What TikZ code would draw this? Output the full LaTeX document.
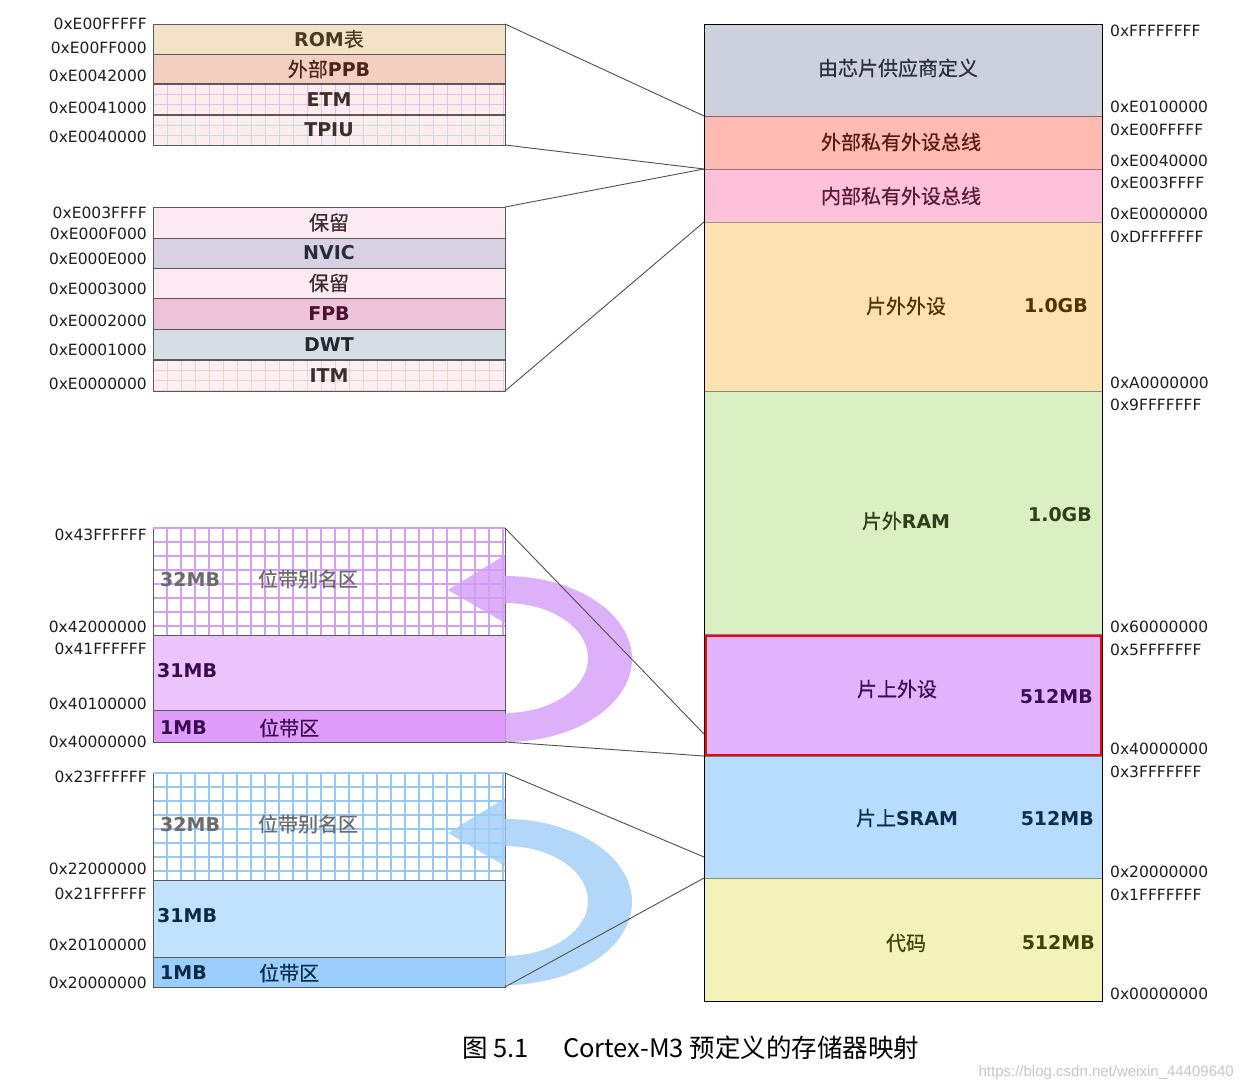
\documentclass[tikz,border=0pt]{standalone}
\usepackage{fontspec}
\setmainfont{DejaVu Sans}
\newfontfamily\cjk{Noto Sans CJK SC}
\newfontfamily\cjkb{Noto Sans CJK SC}[FakeBold=0.5]
\newfontfamily\wmfont{Liberation Sans}
\usetikzlibrary{calc}
\newcommand\zh[1]{{\cjkb\fontsize{20}{20}\selectfont #1}}
\newcommand\lb[1]{{\fontsize{19}{19}\selectfont\bfseries #1}}
% grid inside a named cell: node, colour, x step, y step, top line colour, line width, offset
\newcommand\gridin[7]{%
  \begin{scope}
    \clip (#1.north west) rectangle (#1.south east);
    \foreach \i in {1,...,30}{
      \draw[draw=#2, line width=#6pt] ($(#1.north west)+(\i*#3+#7,0)$) -- ($(#1.south west)+(\i*#3+#7,0)$);
    }
    \foreach \j in {1,...,12}{
      \draw[draw=#2, line width=#6pt] ($(#1.north west)+(0,\j*#4+#7)$) -- ($(#1.north east)+(0,\j*#4+#7)$);
    }
  \end{scope}
  \draw[draw=bordc, line width=0.8pt] (#1.north west) rectangle (#1.south east);
  \draw[draw=#5, line width=1.5pt] (#1.north west) -- (#1.north east);
}
% colours
\definecolor{hexc}{HTML}{1E1E1E}
\definecolor{bordc}{HTML}{5A5A5A}
\definecolor{connc}{HTML}{505050}
\definecolor{romc}{HTML}{F2E3C8}
\definecolor{romt}{HTML}{4A3A1E}
\definecolor{ppbc}{HTML}{F2CFC1}
\definecolor{ppbt}{HTML}{4A2418}
\definecolor{etmc}{HTML}{FDEDED}
\definecolor{etmg}{HTML}{E6BFEA}
\definecolor{tpiug}{HTML}{C9D9E8}
\definecolor{darkt}{HTML}{3A2F2F}
\definecolor{rsvc}{HTML}{FDE9F2}
\definecolor{nvicc}{HTML}{D8D1E2}
\definecolor{nvict}{HTML}{2A2A3F}
\definecolor{fpbc}{HTML}{EDC4D7}
\definecolor{fpbt}{HTML}{4A1030}
\definecolor{dwtc}{HTML}{D6DEE5}
\definecolor{dwtt}{HTML}{1F2A30}
\definecolor{itmc}{HTML}{FDEFF3}
\definecolor{itmg}{HTML}{E6D6C0}
\definecolor{vendc}{HTML}{CDD1DE}
\definecolor{vendt}{HTML}{2B2F3B}
\definecolor{extc}{HTML}{FFBBB1}
\definecolor{extt}{HTML}{5B1A14}
\definecolor{intc}{HTML}{FEC1DA}
\definecolor{intt}{HTML}{5A1A35}
\definecolor{offpc}{HTML}{FDE1B1}
\definecolor{offpt}{HTML}{4F3300}
\definecolor{offrc}{HTML}{DAF0C3}
\definecolor{offrt}{HTML}{2F3F1A}
\definecolor{onpc}{HTML}{E1B4FD}
\definecolor{onpt}{HTML}{3B0F58}
\definecolor{sramc}{HTML}{B6DCFE}
\definecolor{sramt}{HTML}{0E2C4C}
\definecolor{codec}{HTML}{F3F3B9}
\definecolor{codet}{HTML}{40400F}
\definecolor{pgrid}{HTML}{D7A0F7}
\definecolor{p31c}{HTML}{EBC4FC}
\definecolor{p1c}{HTML}{E09CFB}
\definecolor{pt}{HTML}{3A0A50}
\definecolor{parr}{HTML}{D49EF9}
\definecolor{bgrid}{HTML}{97C8F6}
\definecolor{b31c}{HTML}{C1E2FD}
\definecolor{b1c}{HTML}{9BCEFC}
\definecolor{bt}{HTML}{0A2A4A}
\definecolor{barr}{HTML}{9FCDF7}
\definecolor{aliast}{HTML}{6B6B6B}
\tikzset{
  cell/.style={rectangle, anchor=north west, inner sep=0pt, outer sep=0pt, line width=0.8pt, draw=#1},
  hexl/.style={font=\fontsize{15.5}{15.5}\selectfont, text=hexc, inner sep=0pt},
  txt/.style={inner sep=0pt},
  conn/.style={draw=connc, line width=0.9pt},
}
\begin{document}
\begin{tikzpicture}[x=1pt,y=-1pt]
\useasboundingbox (0,0) rectangle (1243,1091);
\fill[white] (0,0) rectangle (1243,1091);

% ---------- top-left block ----------
\node[cell=bordc, fill=romc, minimum width=352pt, minimum height=30pt, text=romt] (rom) at (153,24) {\lb{ROM}\zh{表}};
\node[cell=bordc, fill=ppbc, minimum width=352pt, minimum height=30pt, text=ppbt] (ppb) at (153,54) {\zh{外部}\lb{PPB}};
\node[cell=bordc, fill=etmc, minimum width=352pt, minimum height=31pt] (etm) at (153,84) {};
\gridin{etm}{etmg}{14}{10}{bordc}{1}{0.5}
\node[txt, text=darkt] (etmt) at (etm.center) {\lb{ETM}};
\node[cell=bordc, fill=etmc, minimum width=352pt, minimum height=30pt] (tpiu) at (153,115) {};
\gridin{tpiu}{tpiug}{14}{10}{bordc}{1}{0.5}
\node[txt, text=darkt] (tpiut) at (tpiu.center) {\lb{TPIU}};

% ---------- middle-left block ----------
\node[cell=bordc, fill=rsvc, minimum width=352pt, minimum height=31pt, text=darkt] (rsv1) at (153,207) {\zh{保留}};
\node[cell=bordc, fill=nvicc, minimum width=352pt, minimum height=30pt, text=nvict] (nvic) at (153,238) {\lb{NVIC}};
\node[cell=bordc, fill=rsvc, minimum width=352pt, minimum height=30pt, text=darkt] (rsv2) at (153,268) {\zh{保留}};
\node[cell=bordc, fill=fpbc, minimum width=352pt, minimum height=31pt, text=fpbt] (fpb) at (153,298) {\lb{FPB}};
\node[cell=bordc, fill=dwtc, minimum width=352pt, minimum height=31pt, text=dwtt] (dwt) at (153,329) {\lb{DWT}};
\node[cell=bordc, fill=itmc, minimum width=352pt, minimum height=31pt] (itm) at (153,360) {};
\gridin{itm}{itmg}{14}{10}{bordc}{1}{0.5}
\node[txt, text=darkt] (itmt) at (itm.center) {\lb{ITM}};

% ---------- purple bit-band block ----------
\node[cell=bordc, fill=white, minimum width=352pt, minimum height=107pt] (alias1) at (153,528) {};
\gridin{alias1}{pgrid}{14}{14}{pgrid}{2}{0}
\node[cell=bordc, fill=p31c, minimum width=352pt, minimum height=75pt] (p31) at (153,635) {};
\node[cell=bordc, fill=p1c, minimum width=352pt, minimum height=32pt] (bb1) at (153,710) {};

% ---------- blue bit-band block ----------
\node[cell=bordc, fill=white, minimum width=352pt, minimum height=107pt] (alias2) at (153,773) {};
\gridin{alias2}{bgrid}{14}{14}{bgrid}{2}{0}
\node[cell=bordc, fill=b31c, minimum width=352pt, minimum height=77pt] (b31) at (153,880) {};
\node[cell=bordc, fill=b1c, minimum width=352pt, minimum height=30pt] (bb2) at (153,957) {};

% ---------- curved arrows ----------
\fill[parr, fill opacity=0.8] (505,742) arc[start angle=-90, end angle=90, x radius=127pt, y radius=83pt]
  -- (505,555) -- (448,590) -- (505,623) -- (505,603)
  arc[start angle=90, end angle=-90, x radius=83pt, y radius=55pt] -- cycle;
\fill[barr, fill opacity=0.8] (505,985) arc[start angle=-90, end angle=90, x radius=127pt, y radius=83pt]
  -- (505,798) -- (448,833) -- (505,866) -- (505,846)
  arc[start angle=90, end angle=-90, x radius=83pt, y radius=55pt] -- cycle;

% bit-band texts
\node[txt, anchor=west, text=aliast] (t32a) at (160,579) {\lb{32MB}\hspace{38pt}\zh{位带别名区}};
\node[txt, anchor=west, text=pt] (t31a) at (157,671) {\lb{31MB}};
\node[txt, anchor=west, text=pt] (t1a) at (160,728) {\lb{1MB}};
\node[txt, anchor=west, text=pt] (tbba) at (259,728) {\zh{位带区}};
\node[txt, anchor=west, text=aliast] (t32b) at (160,824) {\lb{32MB}\hspace{38pt}\zh{位带别名区}};
\node[txt, anchor=west, text=bt] (t31b) at (157,916) {\lb{31MB}};
\node[txt, anchor=west, text=bt] (t1b) at (160,973) {\lb{1MB}};
\node[txt, anchor=west, text=bt] (tbbb) at (259,973) {\zh{位带区}};

% ---------- right column ----------
\node[cell=black!60, fill=vendc, minimum width=398pt, minimum height=92pt] (vend) at (704,24) {};
\node[cell=extt!70, fill=extc, minimum width=398pt, minimum height=53pt] (ext) at (704,116) {};
\node[cell=intt!60, fill=intc, minimum width=398pt, minimum height=53pt] (intb) at (704,169) {};
\node[cell=offpt!50, fill=offpc, minimum width=398pt, minimum height=169pt] (offp) at (704,222) {};
\node[cell=offrt!60, fill=offrc, minimum width=398pt, minimum height=243pt] (offr) at (704,391) {};
\node[cell=onpt!60, fill=onpc, minimum width=398pt, minimum height=122pt] (onp) at (704,634) {};
\node[cell=sramt!60, fill=sramc, minimum width=398pt, minimum height=122pt] (sram) at (704,756) {};
\node[cell=codet!60, fill=codec, minimum width=398pt, minimum height=123pt] (code) at (704,878) {};
\draw[black, line width=0.9pt] (vend.north west) rectangle (code.south east);
\draw[red, line width=1.1pt] (706,636) rectangle (1101,755);

\node[txt, text=vendt] (tvend) at (898,68) {\zh{由芯片供应商定义}};
\node[txt, text=extt] (text) at (901,142) {\zh{外部私有外设总线}};
\node[txt, text=intt] (tint) at (901,196) {\zh{内部私有外设总线}};
\node[txt, text=offpt] (toffp) at (906,306) {\zh{片外外设}};
\node[txt, text=offpt, anchor=east] (soffp) at (1088,306) {\lb{1.0GB}};
\node[txt, text=offrt] (toffr) at (906,521) {\zh{片外}\lb{RAM}};
\node[txt, text=offrt, anchor=east] (soffr) at (1092,515) {\lb{1.0GB}};
\node[txt, text=onpt] (tonp) at (897,689) {\zh{片上外设}};
\node[txt, text=onpt, anchor=east] (sonp) at (1093,697) {\lb{512MB}};
\node[txt, text=sramt] (tsram) at (907,818) {\zh{片上}\lb{SRAM}};
\node[txt, text=sramt, anchor=east] (ssram) at (1094,819) {\lb{512MB}};
\node[txt, text=codet] (tcode) at (906,943) {\zh{代码}};
\node[txt, text=codet, anchor=east] (scode) at (1095,943) {\lb{512MB}};

% ---------- connectors ----------
\coordinate (pa) at (704,734);
\coordinate (pb) at (704,857);
\draw[conn] (rom.north east) -- (ext.north west);
\draw[conn] (tpiu.south east) -- (intb.north west);
\draw[conn] (rsv1.north east) -- (intb.north west);
\draw[conn] (itm.south east) -- (offp.north west);
\draw[conn] (alias1.north east) -- (pa);
\draw[conn] (bb1.south east) -- (sram.north west);
\draw[conn] (alias2.north east) -- (pb);
\draw[conn] (bb2.south east) -- (code.north west);

% ---------- address labels (left) ----------
\foreach \t/\y in {0xE00FFFFF/24, 0xE00FF000/48, 0xE0042000/76, 0xE0041000/108, 0xE0040000/137,
  0xE003FFFF/213, 0xE000F000/234, 0xE000E000/259, 0xE0003000/289, 0xE0002000/321, 0xE0001000/350, 0xE0000000/384,
  0x43FFFFFF/535, 0x42000000/627, 0x41FFFFFF/649, 0x40100000/704, 0x40000000/742,
  0x23FFFFFF/777, 0x22000000/869, 0x21FFFFFF/894, 0x20100000/945, 0x20000000/983}
  {\node[hexl, anchor=east] (hl-\y) at (147,\y) {\t};}
% ---------- address labels (right) ----------
\foreach \t/\y in {0xFFFFFFFF/31, 0xE0100000/107, 0xE00FFFFF/130, 0xE0040000/161, 0xE003FFFF/183, 0xE0000000/214,
  0xDFFFFFFF/237, 0xA0000000/383, 0x9FFFFFFF/405, 0x60000000/627, 0x5FFFFFFF/650, 0x40000000/749,
  0x3FFFFFFF/772, 0x20000000/872, 0x1FFFFFFF/895, 0x00000000/994}
  {\node[hexl, anchor=west] (hr-\y) at (1110,\y) {\t};}

% ---------- caption ----------
\node[txt, anchor=west, font=\cjk\fontsize{25.5}{25.5}\selectfont, text=black] (cap) at (462,1048) {图\hspace{6pt}5.1\hspace{34pt}Cortex-M3\hspace{6pt}预定义的存储器映射};
\node[txt, anchor=east, font=\wmfont\fontsize{15}{15}\selectfont, text=black!22] (wm) at (1234,1073) {https://blog.csdn.net/weixin\_44409640};
\end{tikzpicture}
\end{document}
